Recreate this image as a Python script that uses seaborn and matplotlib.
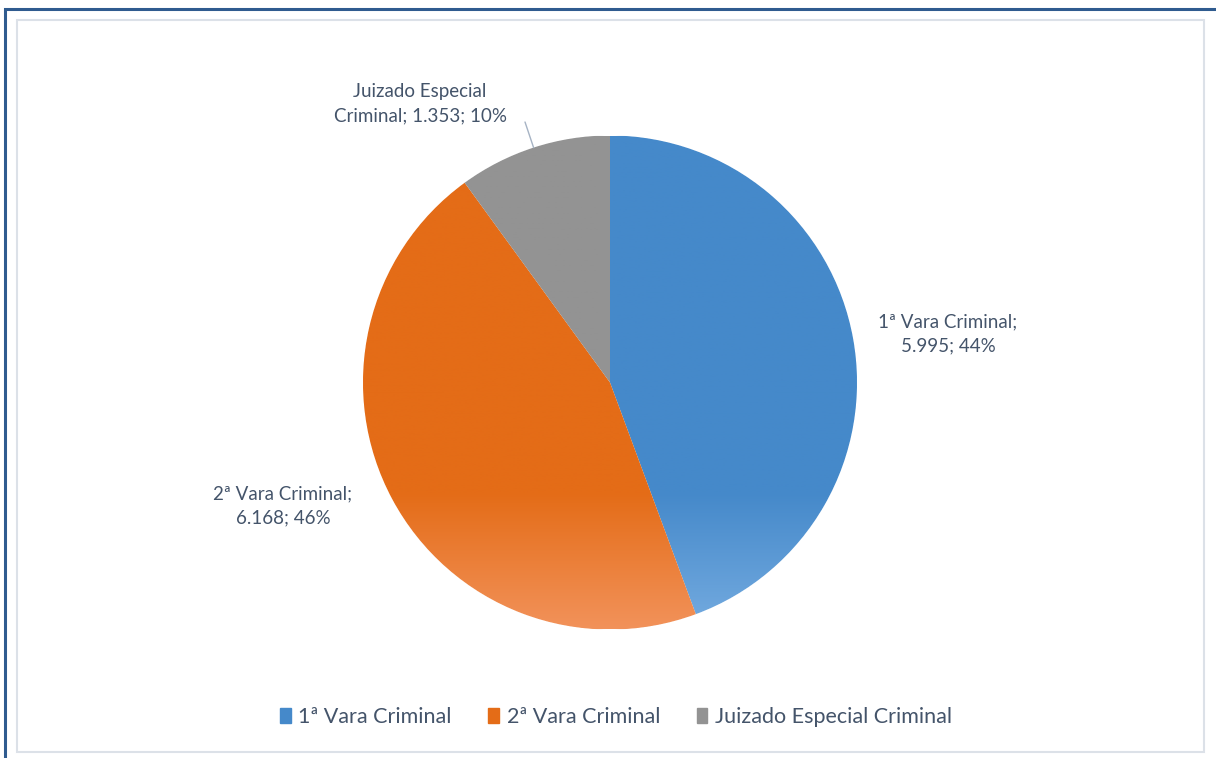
import numpy as np
import matplotlib.pyplot as plt
import matplotlib.colors as mcolors
from matplotlib.patches import Rectangle
import seaborn as sns

categories = ["1ª Vara Criminal", "2ª Vara Criminal", "Juizado Especial Criminal"]
values = [5995, 6168, 1353]
value_labels = ["5.995", "6.168", "1.353"]
base_colors = ["#4589CA", "#E46C17", "#939393"]
light_colors = ["#74ABE0", "#F2925A", "#A5A5A5"]

TEXT = "#44546A"


def main():
    sns.set_style("white")
    plt.rcParams["font.family"] = ["Lato", "DejaVu Sans"]

    W, H = 1216, 758
    fig = plt.figure(figsize=(W / 100, H / 100), dpi=100)

    # frames: outer blue border and inner light chart area
    fig.patches.append(Rectangle((5 / W, -0.1), (W + 20) / W, (H - 9 + 0.1 * H) / H,
                                 transform=fig.transFigure, fill=False,
                                 edgecolor="#2F5B8F", linewidth=2.2))
    fig.patches.append(Rectangle((17 / W, 1 - 752 / H), (1204 - 17) / W, (752 - 20) / H,
                                 transform=fig.transFigure, fill=False,
                                 edgecolor="#DCE1E8", linewidth=1.5))

    cx, cy, r = 610, 382.5, 247
    ax = fig.add_axes([(cx - r) / W, (H - cy - r) / H, 2 * r / W, 2 * r / H])
    ax.set_xlim(-1, 1)
    ax.set_ylim(-1, 1)
    ax.axis("off")

    wedges, _ = ax.pie(values, startangle=90, counterclock=False, radius=1,
                       colors=base_colors,
                       wedgeprops=dict(edgecolor="white", linewidth=0.8))

    # vertical gradient, lighter near the bottom of the pie
    ys = np.linspace(1, -1, 400)
    t = np.clip((-0.45 - ys) / 0.55, 0, 1)
    for w, c0, c1 in zip(wedges, base_colors, light_colors):
        a = np.array(mcolors.to_rgb(c0))
        b = np.array(mcolors.to_rgb(c1))
        grad = (a[None, :] * (1 - t[:, None]) + b[None, :] * t[:, None])[:, None, :]
        im = ax.imshow(grad, extent=[-1, 1, -1, 1], aspect="auto", zorder=w.get_zorder() + 0.1)
        im.set_clip_path(w)
    ax.set_xlim(-1, 1)
    ax.set_ylim(-1, 1)

    total = sum(values)
    pct = [round(v / total * 100) for v in values]

    def to_data(px, py):
        return (px - cx) / r, (cy - py) / r

    fs = 13.5
    x, y = to_data(948, 334)
    ax.text(x, y, f"{categories[0]};\n{value_labels[0]}; {pct[0]}%", ha="center", va="center",
            fontsize=fs, color=TEXT, linespacing=1.5, clip_on=False)
    x, y = to_data(283, 506)
    ax.text(x, y, f"{categories[1]};\n{value_labels[1]}; {pct[1]}%", ha="center", va="center",
            fontsize=fs, color=TEXT, linespacing=1.5, clip_on=False)
    x, y = to_data(420, 104)
    ax.text(x, y, f"Juizado Especial\nCriminal; {value_labels[2]}; {pct[2]}%", ha="center", va="center",
            fontsize=fs, color=TEXT, linespacing=1.5, clip_on=False)
    x0, y0 = to_data(525, 122)
    ang = np.deg2rad(90 + 360 * values[2] / total / 2)
    ax.plot([x0, np.cos(ang)], [y0, np.sin(ang)], color="#A6B3C4", linewidth=1, clip_on=False)

    handles = [Rectangle((0, 0), 1, 1, color=c) for c in base_colors]
    fig.legend(handles, categories, loc="center", bbox_to_anchor=(616 / W, 1 - 717 / H),
               ncol=3, frameon=False, fontsize=15.5, labelcolor=TEXT,
               handlelength=0.5, handleheight=0.75, handletextpad=0.35, columnspacing=1.7)

    fig.savefig("out.png", dpi=100, facecolor="white")


if __name__ == "__main__":
    main()
